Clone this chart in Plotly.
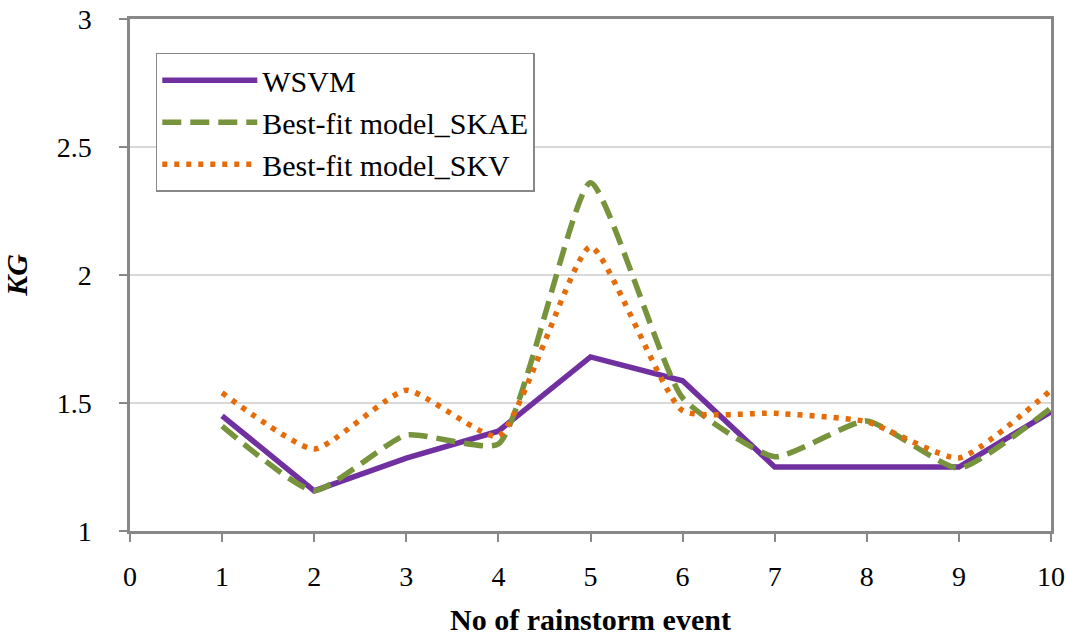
import plotly.graph_objects as go

events = [1, 2, 3, 4, 5, 6, 7, 8, 9, 10]
wsvm = [1.45, 1.157, 1.285, 1.39, 1.68, 1.587, 1.25, 1.25, 1.25, 1.466]
skae = [1.41, 1.157, 1.375, 1.34, 2.36, 1.52, 1.29, 1.43, 1.245, 1.48]
skv = [1.54, 1.32, 1.55, 1.37, 2.11, 1.47, 1.46, 1.427, 1.285, 1.55]
x_ticks = [0, 1, 2, 3, 4, 5, 6, 7, 8, 9, 10]
y_ticks = [1, 1.5, 2, 2.5, 3]
y_labels = ["1", "1.5", "2", "2.5", "3"]

font = "Liberation Serif"
fig = go.Figure()
fig.add_trace(go.Scatter(x=events, y=wsvm, mode="lines", name="WSVM",
                         line=dict(color="#7030A0", width=5.5)))
fig.add_trace(go.Scatter(x=events, y=skae, mode="lines", name="Best-fit model_SKAE",
                         line=dict(color="#77933C", width=5.5, dash="19px,9px",
                                   shape="spline", smoothing=0.5)))
fig.add_trace(go.Scatter(x=events, y=skv, mode="lines", name="Best-fit model_SKV",
                         line=dict(color="#E46C0A", width=5.5, dash="5px,7px",
                                   shape="spline", smoothing=0.5)))

fig.update_layout(
    width=1067, height=636,
    margin=dict(l=130, r=16, t=19, b=105),
    paper_bgcolor="white", plot_bgcolor="white",
    font=dict(family=font, size=28, color="black"),
    showlegend=True,
    legend=dict(x=0.028, y=0.934, xanchor="left", yanchor="top",
                bgcolor="white", bordercolor="#888888", borderwidth=1.5,
                font=dict(family=font, size=30), itemwidth=95,
                tracegroupgap=2),
    xaxis=dict(range=[0, 10], tickvals=x_ticks, showgrid=False,
               showline=True, linecolor="#888888", linewidth=2.5, mirror=True,
               ticks="outside", ticklen=8, tickcolor="#888888", tickwidth=2,
               zeroline=False, ticklabelstandoff=11, automargin=False,
               tickfont=dict(family=font, size=28),
               title=dict(text="<b>No of rainstorm event</b>",
                          font=dict(family=font, size=30), standoff=18)),
    yaxis=dict(range=[1, 3], tickvals=y_ticks, ticktext=y_labels,
               showgrid=True, gridcolor="#D9D9D9", gridwidth=1.5,
               showline=True, linecolor="#888888", linewidth=2.5, mirror=True,
               ticks="outside", ticklen=8, tickcolor="#888888", tickwidth=2,
               zeroline=False, ticklabelstandoff=22, automargin=False,
               tickfont=dict(family=font, size=28),
               title=dict(text="<b><i>KG</i></b>",
                          font=dict(family=font, size=30), standoff=26)),
)
fig.write_html("out.html")
